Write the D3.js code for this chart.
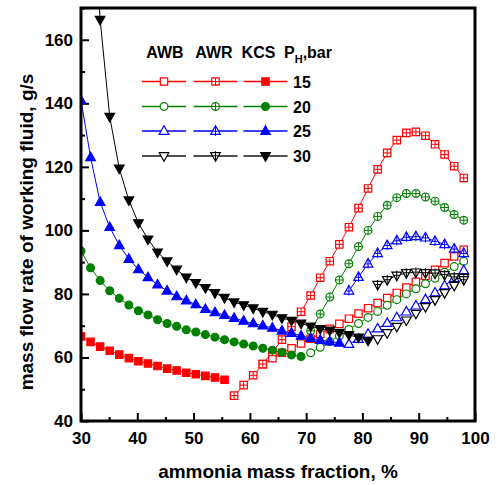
<!DOCTYPE html>
<html>
<head>
<meta charset="utf-8">
<script src="https://cdn.jsdelivr.net/npm/d3@7"></script>
<style>
  body { margin: 0; background: #fff; }
  text { font-family: Arial, "Liberation Sans", sans-serif; font-weight: bold; }
</style>
</head>
<body>
<div class="chart"></div>
<script>
// ammonia mass fraction grid, %
var xFraction = [30, 31.7, 33.4, 35.1, 36.8, 38.5, 40.2, 41.9, 43.6, 45.3, 47, 48.7, 50.4, 52.1,
  53.8, 55.5, 57.2, 58.9, 60.6, 62.3, 64, 65.7, 67.4, 69.1, 70.8, 72.5, 74.2, 75.9, 77.6, 79.3,
  81, 82.7, 84.4, 86.1, 87.8, 89.5, 91.2, 92.9, 94.6, 96.3, 98];

// mass flow rate, g/s (each list starts at the given index of xFraction)
var kcs15 = [66.6, 64.9, 63.4, 62.1, 60.9, 59.8, 58.8, 58.1, 57.3, 56.5, 55.9, 55.2, 54.7, 54.2, 53.7, 53.0];
var kcs20 = [93.5, 88.2, 84.2, 81.0, 78.6, 76.5, 74.7, 73.4, 71.9, 70.7, 69.8, 68.7, 68.0, 67.2, 66.4,
  65.6, 64.9, 64.2, 63.6, 62.9, 62.3, 61.6, 60.8, 60.3];
var kcs25 = [141.0, 123.0, 108.9, 101.0, 95.3, 91.0, 87.7, 85.2, 82.9, 81.0, 79.2, 77.9, 76.7, 75.2, 74.2,
  73.3, 72.4, 71.5, 70.7, 70.0, 69.3, 68.4, 67.7, 66.8, 66.1, 65.5, 65.0, 64.6];
var kcs30 = [218, 166.3, 135.8, 119.5, 109.5, 102.3, 97.2, 93.1, 90.3, 87.7, 85.2, 83.5, 81.9, 80.3, 78.8,
  77.4, 76.5, 75.5, 74.4, 73.5, 72.4, 71.6, 70.7, 69.8, 69.0, 68.5, 67.8, 67.1, 66.3, 65.3];

var awr15 = [48.0, 51.3, 54.4, 57.9, 61.7, 65.6, 69.7, 74.4, 79.5, 85.1, 90.3, 95.6, 101.0, 107.0, 113.2,
  119.2, 124.4, 128.4, 130.7, 131.0, 129.8, 127.1, 123.9, 120.2, 116.5];
var awr20 = [68.4, 73.7, 79.0, 84.4, 89.5, 94.9, 100.0, 104.4, 107.9, 110.3, 111.6, 111.6, 110.5, 109.2,
  107.2, 105.0, 103.2];
var awr25 = [81.0, 85.3, 89.5, 92.8, 95.3, 96.8, 97.9, 98.1, 97.7, 96.6, 95.6, 94.2, 92.8];
var awr30 = [82.9, 84.4, 85.8, 86.6, 86.8, 86.6, 86.5, 86.0, 85.3, 84.4];

var awb15 = [57.9, 59.8, 61.5, 62.9, 64.4, 65.9, 67.4, 69.0, 70.6, 72.2, 73.8, 75.5, 77.1, 78.7, 80.3,
  82.0, 83.8, 85.7, 87.6, 89.7, 91.8, 93.9];
var awb20 = [61.5, 63.2, 65.0, 66.8, 68.8, 70.7, 72.6, 74.5, 76.4, 78.2, 80.0, 81.6, 83.2, 84.9, 86.8, 88.6, 90.3];
var awb25 = [64.2, 65.8, 67.4, 69.1, 70.8, 72.6, 74.4, 76.3, 78.3, 80.4, 82.6, 84.9, 87.4];
var awb30 = [65.8, 67.7, 69.7, 71.7, 73.8, 75.9, 78.1, 80.3, 82.6, 85.1];

var pressures = ["15", "20", "25", "30"];
var colors = ["#ff0000", "#008000", "#0000ff", "#000000"];
var shapes = ["square", "circle", "up", "down"];
var cycles = ["AWB", "AWR", "KCS"];

var xTicks = [30, 40, 50, 60, 70, 80, 90, 100];
var yTicks = [40, 60, 80, 100, 120, 140, 160];

// drawing order: AWB, AWR, KCS
var series = [
  { cycle: "AWB", p: 0, start: 19, values: awb15 },
  { cycle: "AWB", p: 1, start: 24, values: awb20 },
  { cycle: "AWB", p: 2, start: 28, values: awb25 },
  { cycle: "AWB", p: 3, start: 31, values: awb30 },
  { cycle: "AWR", p: 0, start: 16, values: awr15 },
  { cycle: "AWR", p: 1, start: 24, values: awr20 },
  { cycle: "AWR", p: 2, start: 28, values: awr25 },
  { cycle: "AWR", p: 3, start: 31, values: awr30 },
  { cycle: "KCS", p: 0, start: 0, values: kcs15 },
  { cycle: "KCS", p: 1, start: 0, values: kcs20 },
  { cycle: "KCS", p: 2, start: 0, values: kcs25 },
  { cycle: "KCS", p: 3, start: 1, values: kcs30 }
];

var svgWidth = 497;
var svgHeight = 485;

var svg = d3.select(".chart")
  .append("svg")
  .attr("width", svgWidth)
  .attr("height", svgHeight);

var x = d3.scaleLinear().domain([30, 100]).range([81, 475]);
var y = d3.scaleLinear().domain([40, 170]).range([421, 8]);

svg.append("clipPath").attr("id", "plotClip")
  .append("rect")
  .attr("x", x(30)).attr("y", y(170))
  .attr("width", x(100) - x(30)).attr("height", y(40) - y(170));

// marker shapes
function markerPath(shape) {
  if (shape === "square") return "M-3.7,-3.7H3.7V3.7H-3.7Z";
  if (shape === "up") return "M0,-5.2L4.8,3.3L-4.8,3.3Z";
  if (shape === "down") return "M0,5.2L4.8,-3.3L-4.8,-3.3Z";
  return null;
}
function crossPath(shape) {
  if (shape === "up") return "M0,-5.2V4.8M-2.7,0.2H2.7";
  if (shape === "down") return "M0,5.2V-4.8M-2.7,-0.2H2.7";
  return "M0,-3.7V3.7M-3.7,0H3.7";
}

function drawMarker(g, cycle, shape, color) {
  var fill = cycle === "KCS" ? color : "#fff";
  var m;
  if (shape === "circle") {
    m = g.append("circle").attr("r", 3.9);
  } else {
    m = g.append("path").attr("d", markerPath(shape));
  }
  m.attr("fill", fill).attr("stroke", color).attr("stroke-width", 1.2);
  if (cycle === "AWR") {
    g.append("path").attr("d", crossPath(shape))
      .attr("fill", "none").attr("stroke", color).attr("stroke-width", 1);
  }
}

// frame ticks
var tickGroup = svg.append("g");
tickGroup.append("g")
  .attr("transform", "translate(0," + y(40) + ")")
  .call(d3.axisBottom(x).tickValues(d3.range(35, 100, 10)).tickSize(-4).tickFormat(""));
tickGroup.append("g")
  .attr("transform", "translate(0," + y(40) + ")")
  .call(d3.axisBottom(x).tickValues(xTicks).tickSize(-8).tickPadding(11).tickFormat(d3.format("d")));
tickGroup.append("g")
  .attr("transform", "translate(" + x(30) + ",0)")
  .call(d3.axisLeft(y).tickValues([50, 70, 90, 110, 130, 150, 170]).tickSize(-4).tickFormat(""));
tickGroup.append("g")
  .attr("transform", "translate(" + x(30) + ",0)")
  .call(d3.axisLeft(y).tickValues(yTicks).tickSize(-8).tickPadding(8).tickFormat(d3.format("d")));
tickGroup.selectAll(".domain").remove();
tickGroup.selectAll(".tick line").attr("stroke", "#000").attr("stroke-width", 2);
tickGroup.selectAll(".tick text")
  .attr("font-size", "17px")
  .attr("fill", "#000")
  .style("font-family", "Arial, 'Liberation Sans', sans-serif");

// curves
var plot = svg.append("g").attr("clip-path", "url(#plotClip)");
var line = d3.line().x(d => x(d[0])).y(d => y(d[1]));

series.forEach(function (s) {
  var pts = s.values.map((v, i) => [xFraction[s.start + i], v]);
  var color = colors[s.p];
  plot.append("path")
    .datum(pts)
    .attr("d", line)
    .attr("fill", "none")
    .attr("stroke", color)
    .attr("stroke-width", 1);
  pts.forEach(function (d) {
    var g = plot.append("g").attr("transform", "translate(" + x(d[0]) + "," + y(d[1]) + ")");
    drawMarker(g, s.cycle, shapes[s.p], color);
  });
});

// frame
svg.append("rect")
  .attr("x", x(30)).attr("y", y(170))
  .attr("width", x(100) - x(30)).attr("height", y(40) - y(170))
  .attr("fill", "none").attr("stroke", "#000").attr("stroke-width", 3);

// legend
var legend = svg.append("g");
var colCenters = [164, 215.5, 265.5];
var headCenters = [165, 214, 258.5];
var rowY = [81.5, 106.5, 131, 156];

cycles.forEach(function (c, i) {
  legend.append("text")
    .attr("x", headCenters[i]).attr("y", 58)
    .attr("text-anchor", "middle")
    .attr("font-size", "16px")
    .text(c);
});
var ph = legend.append("text").attr("x", 284).attr("y", 58).attr("font-size", "16px");
ph.append("tspan").text("P");
ph.append("tspan").attr("font-size", "11px").attr("dy", 5).text("H");
ph.append("tspan").attr("dy", -5).text(",bar");

pressures.forEach(function (p, r) {
  var color = r === 3 ? "#505050" : colors[r];
  cycles.forEach(function (c, i) {
    legend.append("line")
      .attr("x1", colCenters[i] - 22).attr("x2", colCenters[i] + 22)
      .attr("y1", rowY[r]).attr("y2", rowY[r])
      .attr("stroke", color).attr("stroke-width", r === 3 ? 2 : 1.3);
    var g = legend.append("g").attr("transform", "translate(" + colCenters[i] + "," + rowY[r] + ")");
    drawMarker(g, c, shapes[r], colors[r]);
  });
  legend.append("text")
    .attr("x", 293).attr("y", rowY[r] + 6)
    .attr("font-size", "16px")
    .text(p);
});

// axis titles
svg.append("text")
  .attr("x", 278).attr("y", 478)
  .attr("text-anchor", "middle")
  .attr("font-size", "19px")
  .text("ammonia mass fraction, %");

svg.append("text")
  .attr("transform", "rotate(-90)")
  .attr("x", -232).attr("y", 33)
  .attr("text-anchor", "middle")
  .attr("font-size", "19px")
  .text("mass flow rate of working fluid, g/s");
</script>
</body>
</html>
